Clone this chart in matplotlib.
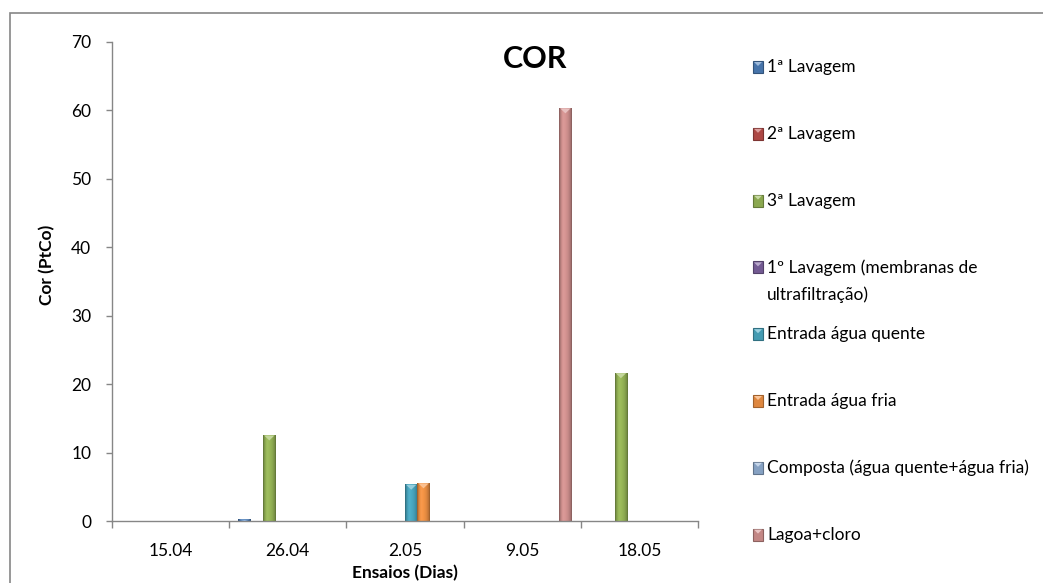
import numpy as np
import matplotlib
matplotlib.use('Agg')
import matplotlib.pyplot as plt
from matplotlib.patches import Rectangle, Polygon
from matplotlib.colors import to_rgb

plt.rcParams['font.family'] = ['Lato', 'DejaVu Sans']

categories = ['15.04', '26.04', '2.05', '9.05', '18.05']
series_names = ['1ª Lavagem', '2ª Lavagem', '3ª Lavagem',
                '1º Lavagem (membranas de\nultrafiltração)', 'Entrada água quente',
                'Entrada água fria', 'Composta (água quente+água fria)', 'Lagoa+cloro']
series_colors = ['#4F81BD', '#C0504D', '#9BBB59', '#8064A2',
                 '#4BACC6', '#F79646', '#95B3D7', '#D99694']

lav1 = [0, 0.2, 0, 0, 0]
lav2 = [0, 0, 0, 0, 0]
lav3 = [0, 12.5, 0, 0, 21.6]
lav1_uf = [0, 0, 0, 0, 0]
quente = [0, 0, 5.3, 0, 0]
fria = [0, 0, 5.5, 0, 0]
composta = [0, 0, 0, 0, 0]
lagoa = [0, 0, 0, 60.3, 0]
series_values = [lav1, lav2, lav3, lav1_uf, quente, fria, composta, lagoa]

W, H = 1043, 583
AXIS_GRAY = '#868686'


def shade(color, f):
    c = np.array(to_rgb(color))
    if f < 1:
        return c * f
    return c + (1 - c) * (f - 1)


def bevel_strip(color, n=40):
    # horizontal light profile: dark rims, highlight left of centre
    t = np.linspace(0, 1, n)
    f = np.interp(t, [0, 0.12, 0.32, 0.7, 0.9, 1], [0.6, 0.85, 1.05, 0.92, 0.78, 0.6])
    return np.array([shade(color, v) for v in f])[None, :, :]


fig = plt.figure(figsize=(W / 100, H / 100), dpi=100)
ax = fig.add_axes([112 / W, 1 - 521 / H, 586 / W, 479 / H])

ymax = 70
n_series = len(series_values)
bw = 1 / (n_series + 1.5)
px_per_unit = 479 / ymax

x = np.arange(len(categories))
for i, (vals, col) in enumerate(zip(series_values, series_colors)):
    centers = x - 0.5 + 0.75 * bw + (i + 0.5) * bw
    for xc, v in zip(centers, vals):
        if v <= 0:
            continue
        x0, x1 = xc - bw / 2, xc + bw / 2
        ax.imshow(bevel_strip(col), extent=[x0, x1, 0, v], aspect='auto',
                  interpolation='bilinear', zorder=2)
        tri = min(5 / px_per_unit, v)
        ax.add_patch(Polygon([[x0 + 0.08 * bw, v], [x1 - 0.08 * bw, v], [xc, v - tri]],
                             closed=True, facecolor=shade(col, 1.4),
                             edgecolor='none', zorder=3))

ax.set_xlim(-0.5, len(categories) - 0.5)
ax.set_ylim(0, ymax)

for side in ['top', 'right']:
    ax.spines[side].set_visible(False)
for side in ['left', 'bottom']:
    ax.spines[side].set_color(AXIS_GRAY)
    ax.spines[side].set_linewidth(1)

ax.set_yticks(np.arange(0, ymax + 1, 10))
ax.tick_params(axis='y', length=4, width=1, color=AXIS_GRAY, pad=11,
               labelsize=12.5, labelcolor='black')
ax.set_xticks(x)
ax.set_xticklabels(categories)
ax.set_xticks(np.arange(-0.5, len(categories)), minor=True)
ax.tick_params(axis='x', which='major', length=0, pad=16, labelsize=12.5)
ax.tick_params(axis='x', which='minor', length=5, width=1, color=AXIS_GRAY)

fig.text(535 / W, 1 - 59 / H, 'COR', fontsize=22, fontweight='bold',
         ha='center', va='center')
fig.text(47 / W, 1 - 265 / H, 'Cor (PtCo)', fontsize=12.5, fontweight='bold',
         rotation=90, ha='center', va='center')
fig.text(405 / W, 1 - 573 / H, 'Ensaios (Dias)', fontsize=12.5, fontweight='bold',
         ha='center', va='center')

# legend drawn by hand so the two-line entry keeps the marker on its first line
for i, (name, col) in enumerate(zip(series_names, series_colors)):
    yc = 67 + i * 66.8
    fig.add_artist(Rectangle((753 / W, 1 - (yc + 6) / H), 10 / W, 12 / H,
                             transform=fig.transFigure, facecolor=shade(col, 0.9),
                             edgecolor=shade(col, 0.65), linewidth=0.8))
    fig.add_artist(Polygon([[754 / W, 1 - (yc - 5) / H], [762 / W, 1 - (yc - 5) / H],
                            [758 / W, 1 - (yc - 1) / H]], closed=True,
                           transform=fig.transFigure, facecolor=shade(col, 1.45),
                           edgecolor='none'))
    for k, line in enumerate(name.split('\n')):
        fig.text(767 / W, 1 - (yc + k * 27) / H, line, fontsize=12.5,
                 ha='left', va='center')

# outer chart frame
fig.add_artist(Rectangle((10 / W, -0.1), 1.2, 1 - 13 / H + 0.1,
                         transform=fig.transFigure, facecolor='none',
                         edgecolor=AXIS_GRAY, linewidth=1.2))

fig.savefig('out.png', dpi=100)
